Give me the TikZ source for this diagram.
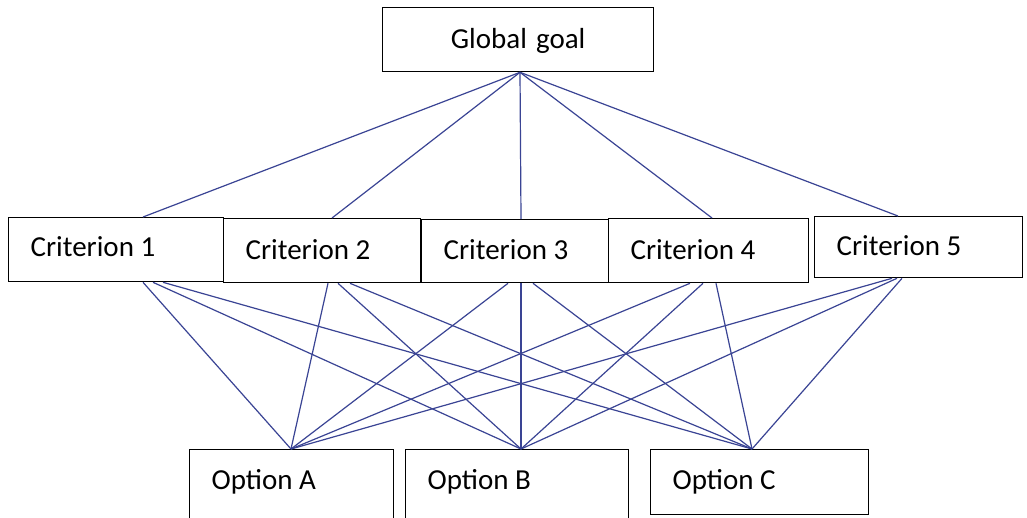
\documentclass[tikz,border=0pt]{standalone}
\usepackage{fontspec}
\setmainfont{Carlito}
\definecolor{linkblue}{RGB}{58,68,148}
\begin{document}
\begin{tikzpicture}[x=1pt,y=-1pt,
  box/.style={draw=black, line width=1.3pt, rectangle, anchor=north west,
    inner xsep=22pt, inner ysep=0pt, align=left,
    font=\fontsize{29}{34}\selectfont,
    execute at begin node={\spaceskip=0pt\xspaceskip=0pt}},
  link/.style={draw=linkblue, line width=1.2pt}]
\useasboundingbox (0,0) rectangle (1027,517);
\fill[white] (0,0) rectangle (1027,517);
\clip (0,0) rectangle (1027,517);

% goal
\node[box, align=center, text width=227pt, text height=41pt, text depth=23pt] (goal) at (382,7) {Global goal};

% criteria
\node[box, text width=171pt, text height=39pt, text depth=25pt] (c1) at (8,217) {Criterion 1};
\node[box, text width=153pt, text height=41pt, text depth=23pt] (c2) at (223,218) {Criterion 2};
\node[box, text width=143pt, text height=40pt, text depth=23pt] (c3) at (421,219) {Criterion 3};
\node[box, text width=156pt, text height=41pt, text depth=23pt] (c4) at (608,218) {Criterion 4};
\node[box, text width=164pt, text height=39pt, text depth=22pt] (c5) at (814,216) {Criterion 5};

% options
\node[box, text width=160pt, text height=40pt, text depth=80pt] (oa) at (189,449) {Option A};
\node[box, text width=179pt, text height=40pt, text depth=80pt] (ob) at (405,449) {Option B};
\node[box, text width=174pt, text height=40pt, text depth=25pt] (oc) at (650,449) {Option C};

% goal to criteria
\draw[link] ([xshift=138pt]goal.south west) -- ([xshift=135pt]c1.north west);
\draw[link] ([xshift=138pt]goal.south west) -- ([xshift=109pt]c2.north west);
\draw[link] ([xshift=138pt]goal.south west) -- ([xshift=100pt]c3.north west);
\draw[link] ([xshift=138pt]goal.south west) -- ([xshift=104pt]c4.north west);
\draw[link] ([xshift=138pt]goal.south west) -- ([xshift=84pt]c5.north west);

% criteria to options
\draw[link] ([xshift=135pt]c1.south west) -- ([xshift=102pt]oa.north west);
\draw[link] ([xshift=145pt]c1.south west) -- ([xshift=116pt]ob.north west);
\draw[link] ([xshift=155pt]c1.south west) -- ([xshift=102pt]oc.north west);

\draw[link] ([xshift=105pt]c2.south west) -- ([xshift=102pt]oa.north west);
\draw[link] ([xshift=115pt]c2.south west) -- ([xshift=116pt]ob.north west);
\draw[link] ([xshift=127pt]c2.south west) -- ([xshift=102pt]oc.north west);

\draw[link] ([xshift=87pt]c3.south west) -- ([xshift=102pt]oa.north west);
\draw[link] ([xshift=100pt]c3.south west) -- ([xshift=116pt]ob.north west);
\draw[link] ([xshift=112pt]c3.south west) -- ([xshift=102pt]oc.north west);

\draw[link] ([xshift=82pt]c4.south west) -- ([xshift=102pt]oa.north west);
\draw[link] ([xshift=95pt]c4.south west) -- ([xshift=116pt]ob.north west);
\draw[link] ([xshift=108pt]c4.south west) -- ([xshift=102pt]oc.north west);

\draw[link] ([xshift=78pt]c5.south west) -- ([xshift=102pt]oa.north west);
\draw[link] ([xshift=83pt]c5.south west) -- ([xshift=116pt]ob.north west);
\draw[link] ([xshift=88pt]c5.south west) -- ([xshift=102pt]oc.north west);
\end{tikzpicture}
\end{document}
